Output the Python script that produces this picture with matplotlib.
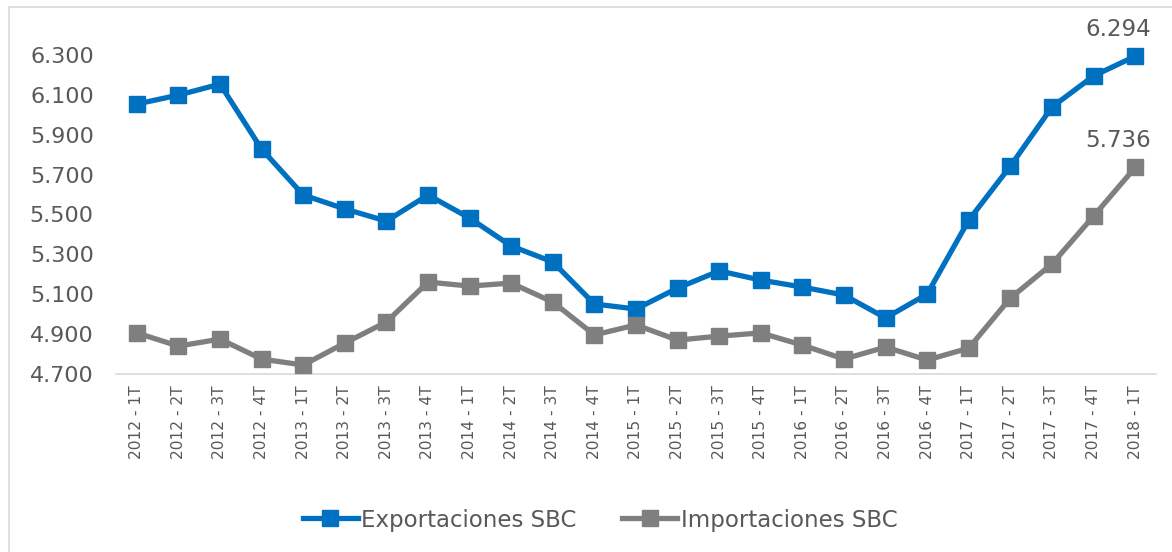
import matplotlib.pyplot as plt
from matplotlib.patches import Rectangle
from matplotlib.ticker import FuncFormatter

periods = ["2012 - 1T", "2012 - 2T", "2012 - 3T", "2012 - 4T",
           "2013 - 1T", "2013 - 2T", "2013 - 3T", "2013 - 4T",
           "2014 - 1T", "2014 - 2T", "2014 - 3T", "2014 - 4T",
           "2015 - 1T", "2015 - 2T", "2015 - 3T", "2015 - 4T",
           "2016 - 1T", "2016 - 2T", "2016 - 3T", "2016 - 4T",
           "2017 - 1T", "2017 - 2T", "2017 - 3T", "2017 - 4T",
           "2018 - 1T"]

exportaciones = [6054, 6099, 6154, 5828, 5598, 5528, 5467, 5598, 5482, 5342,
                 5262, 5051, 5026, 5131, 5217, 5171, 5136, 5096, 4981, 5101,
                 5472, 5743, 6039, 6195, 6294]

importaciones = [4906, 4840, 4875, 4775, 4745, 4855, 4961, 5161, 5141, 5156,
                 5061, 4896, 4946, 4870, 4890, 4906, 4845, 4775, 4835, 4770,
                 4830, 5081, 5252, 5492, 5736]

BLUE = "#0070C0"
GRAY = "#7F7F7F"
TEXT = "#595959"

plt.rcParams["font.family"] = ["DejaVu Sans"]


def miles(v):
    return f"{v:,.0f}".replace(",", ".")


fig = plt.figure(figsize=(11.72, 5.52), dpi=100)
ax = fig.add_axes([116 / 1172, 1 - 374 / 552, (1156 - 116) / 1172, (374 - 55) / 552])

# outer chart frame
fig.patches.append(Rectangle((9 / 1172, -0.05), 1.2, (552 - 7) / 552 + 0.05,
                             transform=fig.transFigure, fill=False,
                             edgecolor="#D9D9D9", linewidth=1.2))

x = list(range(len(periods)))
ax.plot(x, exportaciones, color=BLUE, linewidth=3.8, marker="s", markersize=11,
        label="Exportaciones SBC", solid_joinstyle="round", zorder=3, clip_on=False)
ax.plot(x, importaciones, color=GRAY, linewidth=3.8, marker="s", markersize=11,
        label="Importaciones SBC", solid_joinstyle="round", zorder=3, clip_on=False)

ax.set_xlim(-0.5, len(periods) - 0.5)
ax.set_ylim(4700, 6300)
ax.set_yticks(range(4700, 6301, 200))
ax.yaxis.set_major_formatter(FuncFormatter(lambda v, p: miles(v)))
ax.set_xticks(x)
ax.set_xticklabels(periods, rotation=90)

ax.tick_params(axis="y", length=0, labelsize=16, labelcolor=TEXT, pad=16)
ax.tick_params(axis="x", length=0, labelsize=11.2, labelcolor=TEXT, pad=8)

for s in ["top", "right", "left"]:
    ax.spines[s].set_visible(False)
ax.spines["bottom"].set_color("#D9D9D9")
ax.spines["bottom"].set_linewidth(1.2)

# end labels
for serie in (exportaciones, importaciones):
    ax.annotate(miles(serie[-1]), (x[-1], serie[-1]),
                xytext=(-12, 11), textcoords="offset points", ha="center", va="bottom",
                fontsize=16.5, color=TEXT)

leg = fig.legend(loc="center", bbox_to_anchor=(600 / 1172, 1 - 520 / 552), ncol=2,
                 frameon=False, fontsize=16.5, handlelength=2.4, columnspacing=2.0,
                 handletextpad=0.15)
for t in leg.get_texts():
    t.set_color(TEXT)

fig.savefig("out.png", dpi=100)
